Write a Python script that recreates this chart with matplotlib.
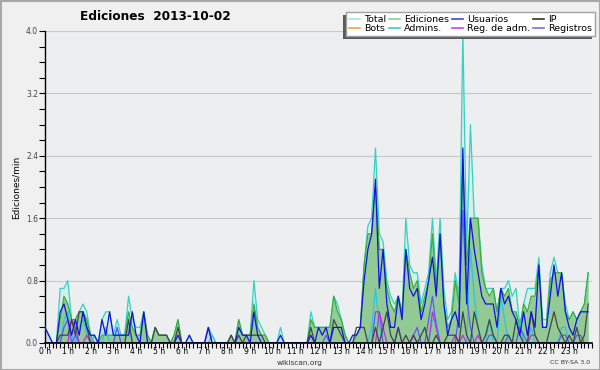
import numpy as np
import matplotlib
matplotlib.use("Agg")
import matplotlib.pyplot as plt
from matplotlib.lines import Line2D
from matplotlib.patches import Rectangle
from matplotlib.ticker import MultipleLocator, FixedLocator

hour_labels = [f"{h} h" for h in range(24)]
bins_per_hour = 6

# edits per minute, 10-minute bins (row = 2 hours)
total = [
    0.2, 0.1, 0.0, 0.0, 0.7, 0.7, 0.8, 0.3, 0.3, 0.4, 0.5, 0.4,
    0.1, 0.1, 0.0, 0.3, 0.4, 0.4, 0.1, 0.3, 0.1, 0.1, 0.6, 0.3,
    0.2, 0.2, 0.4, 0.1, 0.0, 0.2, 0.1, 0.1, 0.1, 0.0, 0.1, 0.3,
    0.0, 0.0, 0.1, 0.0, 0.0, 0.0, 0.0, 0.2, 0.1, 0.0, 0.0, 0.0,
    0.0, 0.1, 0.0, 0.3, 0.1, 0.1, 0.1, 0.8, 0.3, 0.2, 0.1, 0.0,
    0.0, 0.0, 0.2, 0.0, 0.0, 0.0, 0.0, 0.0, 0.0, 0.0, 0.4, 0.2,
    0.2, 0.2, 0.2, 0.2, 0.6, 0.5, 0.3, 0.1, 0.0, 0.0, 0.1, 0.2,
    1.0, 1.5, 1.6, 2.5, 1.4, 1.3, 0.8, 0.6, 0.5, 0.6, 0.4, 1.6,
    1.0, 0.9, 0.9, 0.5, 0.7, 0.9, 1.6, 0.8, 1.6, 0.7, 0.3, 0.4,
    0.9, 0.6, 4.0, 1.2, 2.8, 1.6, 1.6, 1.0, 0.7, 0.7, 0.7, 0.4,
    0.7, 0.7, 0.8, 0.6, 0.7, 0.2, 0.5, 0.7, 0.7, 0.7, 1.1, 0.3,
    0.3, 0.9, 1.1, 0.9, 0.9, 0.5, 0.3, 0.4, 0.3, 0.4, 0.5, 0.9,
]
ediciones = [
    0.0, 0.0, 0.0, 0.0, 0.3, 0.6, 0.5, 0.3, 0.3, 0.4, 0.4, 0.3,
    0.1, 0.0, 0.0, 0.1, 0.1, 0.1, 0.1, 0.1, 0.1, 0.1, 0.4, 0.2,
    0.1, 0.1, 0.4, 0.1, 0.0, 0.2, 0.1, 0.1, 0.1, 0.0, 0.1, 0.3,
    0.0, 0.0, 0.0, 0.0, 0.0, 0.0, 0.0, 0.0, 0.0, 0.0, 0.0, 0.0,
    0.0, 0.1, 0.0, 0.3, 0.1, 0.1, 0.1, 0.5, 0.2, 0.1, 0.1, 0.0,
    0.0, 0.0, 0.0, 0.0, 0.0, 0.0, 0.0, 0.0, 0.0, 0.0, 0.3, 0.2,
    0.2, 0.2, 0.2, 0.2, 0.6, 0.4, 0.3, 0.1, 0.0, 0.0, 0.1, 0.2,
    1.0, 1.4, 1.4, 2.0, 1.2, 1.2, 0.7, 0.5, 0.4, 0.6, 0.4, 1.2,
    0.9, 0.7, 0.8, 0.4, 0.6, 0.8, 1.4, 0.7, 1.4, 0.5, 0.2, 0.3,
    0.8, 0.5, 2.3, 1.0, 1.6, 1.6, 1.6, 0.9, 0.7, 0.6, 0.7, 0.4,
    0.7, 0.6, 0.7, 0.4, 0.4, 0.2, 0.5, 0.4, 0.6, 0.6, 1.0, 0.2,
    0.2, 0.8, 0.9, 0.9, 0.9, 0.4, 0.3, 0.4, 0.3, 0.4, 0.5, 0.9,
]
usuarios = [
    0.2, 0.1, 0.0, 0.0, 0.4, 0.5, 0.3, 0.1, 0.3, 0.1, 0.4, 0.2,
    0.1, 0.1, 0.0, 0.3, 0.1, 0.4, 0.1, 0.1, 0.1, 0.1, 0.1, 0.4,
    0.1, 0.0, 0.4, 0.0, 0.0, 0.0, 0.0, 0.0, 0.0, 0.0, 0.0, 0.1,
    0.0, 0.0, 0.1, 0.0, 0.0, 0.0, 0.0, 0.2, 0.0, 0.0, 0.0, 0.0,
    0.0, 0.0, 0.0, 0.2, 0.1, 0.1, 0.0, 0.4, 0.1, 0.0, 0.0, 0.0,
    0.0, 0.0, 0.1, 0.0, 0.0, 0.0, 0.0, 0.0, 0.0, 0.0, 0.1, 0.0,
    0.2, 0.1, 0.2, 0.0, 0.2, 0.2, 0.2, 0.0, 0.0, 0.1, 0.1, 0.2,
    0.8, 1.2, 1.4, 2.1, 0.7, 1.2, 0.5, 0.2, 0.2, 0.6, 0.3, 1.2,
    0.7, 0.6, 0.7, 0.3, 0.5, 0.8, 1.1, 0.6, 1.4, 0.5, 0.1, 0.3,
    0.4, 0.2, 2.5, 0.5, 1.6, 1.2, 0.9, 0.6, 0.5, 0.5, 0.5, 0.2,
    0.7, 0.5, 0.6, 0.4, 0.3, 0.1, 0.4, 0.1, 0.4, 0.2, 1.0, 0.2,
    0.2, 0.6, 1.0, 0.6, 0.9, 0.4, 0.2, 0.1, 0.3, 0.4, 0.4, 0.4,
]
ip = [
    0.0, 0.0, 0.0, 0.0, 0.1, 0.1, 0.1, 0.3, 0.1, 0.4, 0.4, 0.2,
    0.0, 0.0, 0.0, 0.0, 0.0, 0.0, 0.0, 0.0, 0.0, 0.0, 0.3, 0.0,
    0.0, 0.0, 0.0, 0.0, 0.0, 0.2, 0.1, 0.1, 0.1, 0.0, 0.0, 0.2,
    0.0, 0.0, 0.0, 0.0, 0.0, 0.0, 0.0, 0.0, 0.0, 0.0, 0.0, 0.0,
    0.0, 0.1, 0.0, 0.1, 0.0, 0.1, 0.1, 0.1, 0.1, 0.1, 0.0, 0.0,
    0.0, 0.0, 0.0, 0.0, 0.0, 0.0, 0.0, 0.0, 0.0, 0.0, 0.2, 0.0,
    0.0, 0.0, 0.0, 0.0, 0.3, 0.2, 0.1, 0.0, 0.0, 0.0, 0.2, 0.2,
    0.2, 0.0, 0.0, 0.2, 0.0, 0.2, 0.4, 0.1, 0.0, 0.2, 0.0, 0.1,
    0.0, 0.1, 0.0, 0.1, 0.2, 0.0, 0.0, 0.1, 0.0, 0.0, 0.1, 0.1,
    0.1, 0.0, 0.4, 0.1, 0.0, 0.4, 0.2, 0.0, 0.1, 0.3, 0.1, 0.0,
    0.0, 0.1, 0.1, 0.0, 0.3, 0.1, 0.0, 0.0, 0.4, 0.1, 0.0, 0.0,
    0.0, 0.2, 0.4, 0.2, 0.1, 0.0, 0.1, 0.0, 0.2, 0.0, 0.1, 0.5,
]
admins = [
    0.0, 0.0, 0.0, 0.0, 0.0, 0.3, 0.4, 0.1, 0.0, 0.2, 0.3, 0.1,
    0.0, 0.1, 0.0, 0.0, 0.2, 0.0, 0.0, 0.2, 0.0, 0.0, 0.2, 0.0,
    0.0, 0.0, 0.0, 0.0, 0.0, 0.0, 0.0, 0.0, 0.0, 0.0, 0.0, 0.0,
    0.0, 0.0, 0.0, 0.0, 0.0, 0.0, 0.0, 0.0, 0.1, 0.0, 0.0, 0.0,
    0.0, 0.0, 0.0, 0.0, 0.0, 0.0, 0.0, 0.0, 0.0, 0.0, 0.0, 0.0,
    0.0, 0.0, 0.0, 0.0, 0.0, 0.0, 0.0, 0.0, 0.0, 0.0, 0.0, 0.0,
    0.0, 0.0, 0.0, 0.0, 0.0, 0.0, 0.0, 0.0, 0.0, 0.0, 0.0, 0.0,
    0.0, 0.0, 0.2, 0.7, 0.2, 0.0, 0.0, 0.0, 0.0, 0.0, 0.0, 0.0,
    0.0, 0.0, 0.0, 0.0, 0.0, 0.0, 0.3, 0.3, 0.0, 0.0, 0.0, 0.0,
    0.0, 0.0, 0.0, 0.0, 1.2, 0.6, 0.2, 0.0, 0.0, 0.3, 0.0, 0.0,
    0.6, 0.3, 0.0, 0.0, 0.0, 0.3, 0.0, 0.0, 0.2, 0.0, 0.0, 0.0,
    0.0, 0.0, 0.0, 0.0, 0.2, 0.2, 0.0, 0.0, 0.0, 0.0, 0.0, 0.0,
]
reg_adm = [
    0.0, 0.0, 0.0, 0.0, 0.0, 0.0, 0.0, 0.3, 0.2, 0.0, 0.0, 0.1,
    0.0, 0.0, 0.0, 0.0, 0.0, 0.0, 0.0, 0.0, 0.0, 0.0, 0.0, 0.0,
    0.0, 0.0, 0.0, 0.0, 0.0, 0.0, 0.0, 0.0, 0.0, 0.0, 0.0, 0.0,
    0.0, 0.0, 0.0, 0.0, 0.0, 0.0, 0.0, 0.0, 0.0, 0.0, 0.0, 0.0,
    0.0, 0.0, 0.0, 0.0, 0.0, 0.0, 0.0, 0.0, 0.0, 0.0, 0.0, 0.0,
    0.0, 0.0, 0.0, 0.0, 0.0, 0.0, 0.0, 0.0, 0.0, 0.0, 0.0, 0.0,
    0.0, 0.0, 0.0, 0.0, 0.0, 0.0, 0.0, 0.0, 0.0, 0.0, 0.0, 0.0,
    0.0, 0.0, 0.0, 0.0, 0.4, 0.2, 0.0, 0.0, 0.0, 0.0, 0.0, 0.0,
    0.0, 0.1, 0.0, 0.0, 0.0, 0.0, 0.4, 0.2, 0.0, 0.0, 0.0, 0.0,
    0.1, 0.0, 0.1, 0.0, 0.0, 0.0, 0.1, 0.0, 0.0, 0.0, 0.0, 0.0,
    0.0, 0.0, 0.0, 0.0, 0.0, 0.0, 0.0, 0.0, 0.1, 0.1, 0.0, 0.0,
    0.0, 0.0, 0.0, 0.0, 0.0, 0.0, 0.0, 0.0, 0.0, 0.0, 0.0, 0.0,
]
registros = [
    0.0, 0.0, 0.0, 0.0, 0.0, 0.2, 0.3, 0.0, 0.1, 0.0, 0.0, 0.0,
    0.0, 0.0, 0.0, 0.0, 0.0, 0.0, 0.0, 0.2, 0.0, 0.0, 0.0, 0.0,
    0.0, 0.0, 0.0, 0.0, 0.0, 0.0, 0.0, 0.0, 0.0, 0.0, 0.0, 0.0,
    0.0, 0.0, 0.0, 0.0, 0.0, 0.0, 0.0, 0.2, 0.0, 0.0, 0.0, 0.0,
    0.0, 0.0, 0.0, 0.0, 0.0, 0.0, 0.0, 0.0, 0.0, 0.0, 0.0, 0.0,
    0.0, 0.0, 0.0, 0.0, 0.0, 0.0, 0.0, 0.0, 0.0, 0.0, 0.0, 0.0,
    0.0, 0.0, 0.1, 0.0, 0.0, 0.0, 0.0, 0.0, 0.0, 0.0, 0.0, 0.0,
    0.0, 0.0, 0.0, 0.4, 0.4, 0.0, 0.0, 0.0, 0.0, 0.2, 0.0, 0.0,
    0.0, 0.1, 0.2, 0.0, 0.0, 0.3, 0.6, 0.2, 0.0, 0.0, 0.0, 0.0,
    0.0, 0.4, 1.7, 0.6, 0.2, 0.0, 0.0, 0.0, 0.0, 0.1, 0.1, 0.0,
    0.0, 0.0, 0.1, 0.0, 0.0, 0.2, 0.1, 0.0, 0.0, 0.0, 0.0, 0.0,
    0.0, 0.0, 0.0, 0.0, 0.1, 0.1, 0.0, 0.0, 0.1, 0.1, 0.0, 0.0,
]

W, H = 600, 370
fig = plt.figure(figsize=(W / 100, H / 100), dpi=100, facecolor="#f0f0f0")
ax = fig.add_axes([45 / W, (H - 343) / H, 547 / W, 312 / H])
ax.set_facecolor("#edeef0")

x = np.arange(len(total)) / bins_per_hour

ax.fill_between(x, total, color="#c9efe8", alpha=0.6, lw=0, zorder=1)
ax.fill_between(x, usuarios, color="#b5cdee", alpha=0.5, lw=0, zorder=1.5)
ax.fill_between(x, ediciones, color="#8dc88d", alpha=0.9, lw=0, zorder=2)

lw = 0.9
ax.plot(x, total, color="#34d2c2", lw=lw, zorder=3)
ax.plot(x, ediciones, color="#3aae3a", lw=lw, zorder=3.1)
ax.plot(x, admins, color="#2cc6dc", lw=lw, zorder=3.2)
ax.plot(x, registros, color="#5a5af2", lw=lw, zorder=3.3)
ax.plot(x, reg_adm, color="#c828e0", lw=lw, zorder=3.4)
ax.plot(x, ip, color="#444444", lw=lw, zorder=3.5)
ax.plot(x, usuarios, color="#1212e0", lw=lw, zorder=3.6)

ax.set_xlim(0, 24)
ax.set_ylim(0, 4.0)

yt = [0.0, 0.8, 1.6, 2.4, 3.2, 4.0]
ax.yaxis.set_major_locator(FixedLocator(yt))
ax.yaxis.set_minor_locator(MultipleLocator(0.2))
ax.set_yticklabels([f"{v:.1f}" for v in yt])
ax.xaxis.set_major_locator(FixedLocator(list(range(24))))
ax.xaxis.set_minor_locator(MultipleLocator(1 / bins_per_hour))
ax.set_xticklabels(hour_labels)

ax.grid(axis="y", which="major", color="#c8c8c8", lw=0.8)
ax.set_axisbelow(True)
ax.tick_params(axis="y", which="major", length=4, width=0.8, labelsize=5.5,
               labelcolor="#444444", pad=1)
ax.tick_params(axis="y", which="minor", length=4, width=0.8)
ax.tick_params(axis="x", which="both", length=3.5, width=0.8, labelsize=5.5,
               pad=-0.5)
for s in ("top", "right"):
    ax.spines[s].set_visible(False)
ax.spines["left"].set_linewidth(1.0)
ax.spines["bottom"].set_linewidth(1.2)
ax.spines["bottom"].set_zorder(5)

ax.set_ylabel("Ediciones/min", fontsize=6.5, labelpad=4)
fig.text(155 / W, 1 - 17 / H, "Ediciones  2013-10-02", ha="center", va="center",
         fontsize=8.7, fontweight="bold")
fig.text(300 / W, 1 - 362.5 / H, "wikiscan.org", ha="center", va="center",
         fontsize=5.3, color="#333333")
fig.text(570 / W, 1 - 362.5 / H, "CC BY-SA 3.0", ha="center", va="center",
         fontsize=4.5, color="#333333")

handles = [
    Line2D([], [], color="#a8e4dc", lw=1.2),
    Line2D([], [], color="#f0a040", lw=1.2),
    Line2D([], [], color="#8ed08e", lw=1.2),
    Line2D([], [], color="#40c8e0", lw=1.2),
    Line2D([], [], color="#4444dd", lw=1.2),
    Line2D([], [], color="#d040e0", lw=1.2),
    Line2D([], [], color="#333333", lw=1.2),
    Line2D([], [], color="#7070ee", lw=1.2),
]
labels = ["Total", "Bots", "Ediciones", "Admins.", "Usuarios", "Reg. de adm.",
          "IP", "Registros"]
leg = fig.legend(handles, labels, ncol=4, loc="upper left",
                 bbox_to_anchor=(346 / W, 1 - 12 / H), fontsize=6.8,
                 frameon=True, fancybox=False, edgecolor="#a0a0a0",
                 facecolor="white", framealpha=1, handlelength=1.2,
                 handletextpad=0.4, columnspacing=0.3, labelspacing=0.05,
                 borderpad=0.3, borderaxespad=0)
leg.set_zorder(10)
fig.canvas.draw()
bb = leg.get_window_extent()
shadow = Rectangle((bb.x0 - 3, bb.y0 - 3), bb.width, bb.height,
                   transform=None, facecolor="#5a5a5a", edgecolor="none",
                   zorder=9)
fig.patches.append(shadow)

border = Rectangle((0.5, 0.5), W - 1, H - 1, transform=None, fill=False,
                   edgecolor="#a8a8a8", lw=1.5, zorder=20)
fig.patches.append(border)

fig.savefig("out.png", dpi=100, facecolor=fig.get_facecolor())
